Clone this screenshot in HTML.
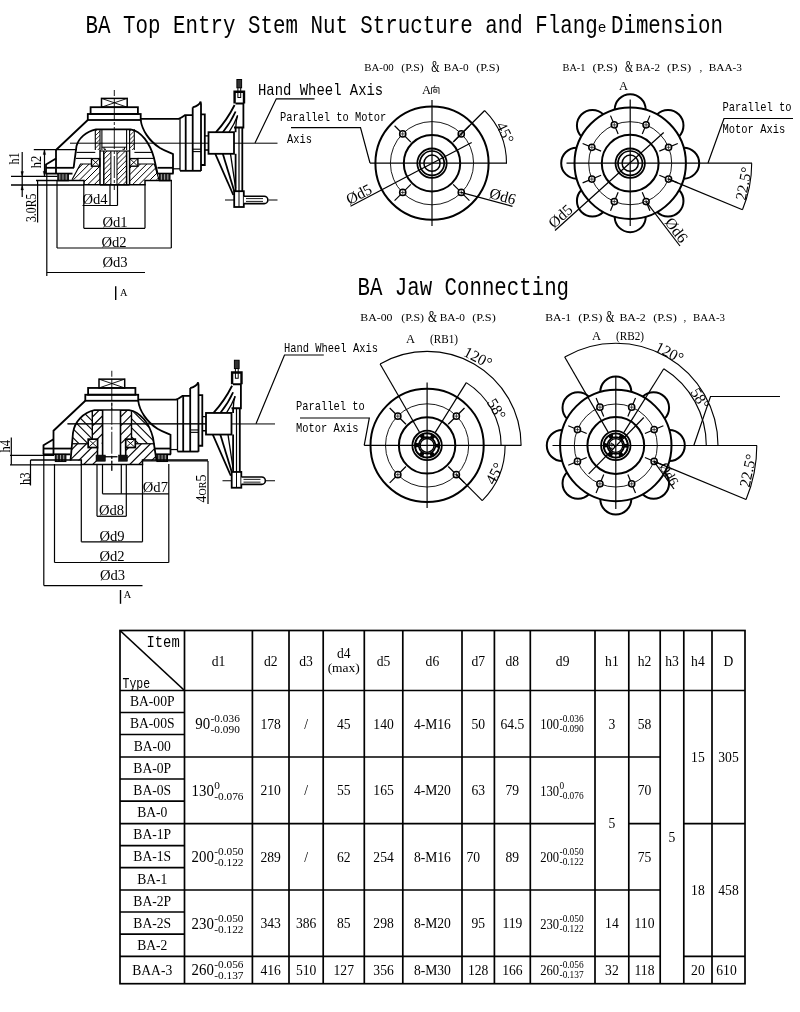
<!DOCTYPE html>
<html><head><meta charset="utf-8"><title>BA Stem Nut Structure and Flange Dimension</title>
<style>html,body{margin:0;padding:0;background:#fff}svg{display:block}</style></head>
<body>
<svg width="800" height="1012" viewBox="0 0 800 1012" stroke-linecap="butt" style="will-change:transform;opacity:0.999">
<rect x="0" y="0" width="800" height="1012" fill="#fff"/>
<text x="0" y="0" font-family="Liberation Mono" font-size="20.83" fill="#000" transform="translate(85.50 32.50) scale(1 1.27)" xml:space="preserve">BA Top Entry Stem Nut Structure and Flang</text>
<text x="0" y="0" font-family="Liberation Mono" font-size="14.50" fill="#000" transform="translate(597.80 32.20) scale(1 1.07)" xml:space="preserve">e</text>
<text x="0" y="0" font-family="Liberation Mono" font-size="20.75" fill="#000" transform="translate(611.00 32.50) scale(1 1.27)" xml:space="preserve">Dimension</text>
<text x="0" y="0" font-family="Liberation Mono" font-size="20.75" fill="#000" transform="translate(357.50 294.80) scale(1 1.25)" xml:space="preserve">BA Jaw Connecting</text>
<text x="364.25" y="70.80" font-family="Liberation Serif" font-size="11" text-anchor="start" fill="#000" textLength="29.50" lengthAdjust="spacingAndGlyphs" >BA-00</text>
<text x="401.25" y="70.80" font-family="Liberation Serif" font-size="11" text-anchor="start" fill="#000" textLength="22.50" lengthAdjust="spacingAndGlyphs" >(P.S)</text>
<text x="431.25" y="72.00" font-family="Liberation Serif" font-size="16.5" text-anchor="start" fill="#000" textLength="8.25" lengthAdjust="spacingAndGlyphs" >&amp;</text>
<text x="443.75" y="70.80" font-family="Liberation Serif" font-size="11" text-anchor="start" fill="#000" textLength="25.00" lengthAdjust="spacingAndGlyphs" >BA-0</text>
<text x="476.25" y="70.80" font-family="Liberation Serif" font-size="11" text-anchor="start" fill="#000" textLength="23.25" lengthAdjust="spacingAndGlyphs" >(P.S)</text>
<text x="562.50" y="70.80" font-family="Liberation Serif" font-size="11" text-anchor="start" fill="#000" textLength="23.00" lengthAdjust="spacingAndGlyphs" >BA-1</text>
<text x="592.50" y="70.80" font-family="Liberation Serif" font-size="11" text-anchor="start" fill="#000" textLength="25.00" lengthAdjust="spacingAndGlyphs" >(P.S)</text>
<text x="625.00" y="72.00" font-family="Liberation Serif" font-size="16.5" text-anchor="start" fill="#000" textLength="8.00" lengthAdjust="spacingAndGlyphs" >&amp;</text>
<text x="635.50" y="70.80" font-family="Liberation Serif" font-size="11" text-anchor="start" fill="#000" textLength="24.50" lengthAdjust="spacingAndGlyphs" >BA-2</text>
<text x="667.00" y="70.80" font-family="Liberation Serif" font-size="11" text-anchor="start" fill="#000" textLength="24.25" lengthAdjust="spacingAndGlyphs" >(P.S)</text>
<text x="699.50" y="70.80" font-family="Liberation Serif" font-size="11" text-anchor="start" fill="#000" >,</text>
<text x="708.75" y="70.80" font-family="Liberation Serif" font-size="11" text-anchor="start" fill="#000" textLength="33.25" lengthAdjust="spacingAndGlyphs" >BAA-3</text>
<text x="360.30" y="321.00" font-family="Liberation Serif" font-size="11" text-anchor="start" fill="#000" textLength="32.20" lengthAdjust="spacingAndGlyphs" >BA-00</text>
<text x="401.25" y="321.00" font-family="Liberation Serif" font-size="11" text-anchor="start" fill="#000" textLength="22.75" lengthAdjust="spacingAndGlyphs" >(P.S)</text>
<text x="428.00" y="322.20" font-family="Liberation Serif" font-size="16.5" text-anchor="start" fill="#000" textLength="9.00" lengthAdjust="spacingAndGlyphs" >&amp;</text>
<text x="439.75" y="321.00" font-family="Liberation Serif" font-size="11" text-anchor="start" fill="#000" textLength="25.25" lengthAdjust="spacingAndGlyphs" >BA-0</text>
<text x="472.30" y="321.00" font-family="Liberation Serif" font-size="11" text-anchor="start" fill="#000" textLength="23.45" lengthAdjust="spacingAndGlyphs" >(P.S)</text>
<text x="545.20" y="320.50" font-family="Liberation Serif" font-size="11" text-anchor="start" fill="#000" textLength="26.00" lengthAdjust="spacingAndGlyphs" >BA-1</text>
<text x="578.30" y="320.50" font-family="Liberation Serif" font-size="11" text-anchor="start" fill="#000" textLength="24.20" lengthAdjust="spacingAndGlyphs" >(P.S)</text>
<text x="606.00" y="321.70" font-family="Liberation Serif" font-size="16.5" text-anchor="start" fill="#000" textLength="8.40" lengthAdjust="spacingAndGlyphs" >&amp;</text>
<text x="619.40" y="320.50" font-family="Liberation Serif" font-size="11" text-anchor="start" fill="#000" textLength="26.40" lengthAdjust="spacingAndGlyphs" >BA-2</text>
<text x="653.20" y="320.50" font-family="Liberation Serif" font-size="11" text-anchor="start" fill="#000" textLength="23.60" lengthAdjust="spacingAndGlyphs" >(P.S)</text>
<text x="683.50" y="320.50" font-family="Liberation Serif" font-size="11" text-anchor="start" fill="#000" >,</text>
<text x="693.00" y="320.50" font-family="Liberation Serif" font-size="11" text-anchor="start" fill="#000" textLength="32.00" lengthAdjust="spacingAndGlyphs" >BAA-3</text>
<rect x="120.00" y="630.50" width="625.00" height="353.20" stroke="#000" stroke-width="1.7" fill="none"/>
<line x1="184.50" y1="630.50" x2="184.50" y2="983.70" stroke="#000" stroke-width="1.7" />
<line x1="252.40" y1="630.50" x2="252.40" y2="983.70" stroke="#000" stroke-width="1.7" />
<line x1="289.00" y1="630.50" x2="289.00" y2="983.70" stroke="#000" stroke-width="1.7" />
<line x1="323.20" y1="630.50" x2="323.20" y2="983.70" stroke="#000" stroke-width="1.7" />
<line x1="364.30" y1="630.50" x2="364.30" y2="983.70" stroke="#000" stroke-width="1.7" />
<line x1="402.80" y1="630.50" x2="402.80" y2="983.70" stroke="#000" stroke-width="1.7" />
<line x1="462.00" y1="630.50" x2="462.00" y2="983.70" stroke="#000" stroke-width="1.7" />
<line x1="494.40" y1="630.50" x2="494.40" y2="983.70" stroke="#000" stroke-width="1.7" />
<line x1="530.30" y1="630.50" x2="530.30" y2="983.70" stroke="#000" stroke-width="1.7" />
<line x1="595.00" y1="630.50" x2="595.00" y2="983.70" stroke="#000" stroke-width="1.7" />
<line x1="628.80" y1="630.50" x2="628.80" y2="983.70" stroke="#000" stroke-width="1.7" />
<line x1="660.20" y1="630.50" x2="660.20" y2="983.70" stroke="#000" stroke-width="1.7" />
<line x1="683.80" y1="630.50" x2="683.80" y2="983.70" stroke="#000" stroke-width="1.7" />
<line x1="712.00" y1="630.50" x2="712.00" y2="983.70" stroke="#000" stroke-width="1.7" />
<line x1="120.00" y1="690.50" x2="745.00" y2="690.50" stroke="#000" stroke-width="1.7" />
<line x1="120.00" y1="712.50" x2="184.50" y2="712.50" stroke="#000" stroke-width="1.7" />
<line x1="120.00" y1="734.50" x2="184.50" y2="734.50" stroke="#000" stroke-width="1.7" />
<line x1="120.00" y1="757.00" x2="184.50" y2="757.00" stroke="#000" stroke-width="1.7" />
<line x1="120.00" y1="779.00" x2="184.50" y2="779.00" stroke="#000" stroke-width="1.7" />
<line x1="120.00" y1="801.20" x2="184.50" y2="801.20" stroke="#000" stroke-width="1.7" />
<line x1="120.00" y1="823.60" x2="184.50" y2="823.60" stroke="#000" stroke-width="1.7" />
<line x1="120.00" y1="845.70" x2="184.50" y2="845.70" stroke="#000" stroke-width="1.7" />
<line x1="120.00" y1="867.60" x2="184.50" y2="867.60" stroke="#000" stroke-width="1.7" />
<line x1="120.00" y1="890.00" x2="184.50" y2="890.00" stroke="#000" stroke-width="1.7" />
<line x1="120.00" y1="912.00" x2="184.50" y2="912.00" stroke="#000" stroke-width="1.7" />
<line x1="120.00" y1="934.20" x2="184.50" y2="934.20" stroke="#000" stroke-width="1.7" />
<line x1="120.00" y1="956.40" x2="184.50" y2="956.40" stroke="#000" stroke-width="1.7" />
<line x1="184.50" y1="757.00" x2="595.00" y2="757.00" stroke="#000" stroke-width="1.7" />
<line x1="184.50" y1="823.60" x2="595.00" y2="823.60" stroke="#000" stroke-width="1.7" />
<line x1="184.50" y1="890.00" x2="595.00" y2="890.00" stroke="#000" stroke-width="1.7" />
<line x1="184.50" y1="956.40" x2="595.00" y2="956.40" stroke="#000" stroke-width="1.7" />
<line x1="595.00" y1="757.00" x2="628.80" y2="757.00" stroke="#000" stroke-width="1.7" />
<line x1="595.00" y1="890.00" x2="628.80" y2="890.00" stroke="#000" stroke-width="1.7" />
<line x1="595.00" y1="956.40" x2="628.80" y2="956.40" stroke="#000" stroke-width="1.7" />
<line x1="628.80" y1="757.00" x2="660.20" y2="757.00" stroke="#000" stroke-width="1.7" />
<line x1="628.80" y1="823.60" x2="660.20" y2="823.60" stroke="#000" stroke-width="1.7" />
<line x1="628.80" y1="890.00" x2="660.20" y2="890.00" stroke="#000" stroke-width="1.7" />
<line x1="628.80" y1="956.40" x2="660.20" y2="956.40" stroke="#000" stroke-width="1.7" />
<line x1="683.80" y1="823.60" x2="745.00" y2="823.60" stroke="#000" stroke-width="1.7" />
<line x1="683.80" y1="956.40" x2="745.00" y2="956.40" stroke="#000" stroke-width="1.7" />
<line x1="120.00" y1="630.50" x2="184.50" y2="690.50" stroke="#000" stroke-width="1.7" />
<text x="0" y="0" font-family="Liberation Mono" font-size="13.83" fill="#000" transform="translate(146.50 646.50) scale(1 1.25)" xml:space="preserve">Item</text>
<text x="0" y="0" font-family="Liberation Mono" font-size="11.50" fill="#000" transform="translate(122.50 688.00) scale(1 1.2)" xml:space="preserve">Type</text>
<text x="218.45" y="666.00" font-family="Liberation Serif" font-size="13.6" text-anchor="middle" fill="#000" >d1</text>
<text x="270.70" y="666.00" font-family="Liberation Serif" font-size="13.6" text-anchor="middle" fill="#000" >d2</text>
<text x="306.10" y="666.00" font-family="Liberation Serif" font-size="13.6" text-anchor="middle" fill="#000" >d3</text>
<text x="383.55" y="666.00" font-family="Liberation Serif" font-size="13.6" text-anchor="middle" fill="#000" >d5</text>
<text x="432.40" y="666.00" font-family="Liberation Serif" font-size="13.6" text-anchor="middle" fill="#000" >d6</text>
<text x="478.20" y="666.00" font-family="Liberation Serif" font-size="13.6" text-anchor="middle" fill="#000" >d7</text>
<text x="512.35" y="666.00" font-family="Liberation Serif" font-size="13.6" text-anchor="middle" fill="#000" >d8</text>
<text x="562.65" y="666.00" font-family="Liberation Serif" font-size="13.6" text-anchor="middle" fill="#000" >d9</text>
<text x="611.90" y="666.00" font-family="Liberation Serif" font-size="13.6" text-anchor="middle" fill="#000" >h1</text>
<text x="644.50" y="666.00" font-family="Liberation Serif" font-size="13.6" text-anchor="middle" fill="#000" >h2</text>
<text x="672.00" y="666.00" font-family="Liberation Serif" font-size="13.6" text-anchor="middle" fill="#000" >h3</text>
<text x="697.90" y="666.00" font-family="Liberation Serif" font-size="13.6" text-anchor="middle" fill="#000" >h4</text>
<text x="728.50" y="666.00" font-family="Liberation Serif" font-size="13.6" text-anchor="middle" fill="#000" >D</text>
<text x="343.75" y="657.50" font-family="Liberation Serif" font-size="13.6" text-anchor="middle" fill="#000" >d4</text>
<text x="343.75" y="672.00" font-family="Liberation Serif" font-size="13.5" text-anchor="middle" fill="#000" >(max)</text>
<text x="152.25" y="706.30" font-family="Liberation Serif" font-size="13.6" text-anchor="middle" fill="#000" >BA-00P</text>
<text x="152.25" y="728.30" font-family="Liberation Serif" font-size="13.6" text-anchor="middle" fill="#000" >BA-00S</text>
<text x="152.25" y="750.55" font-family="Liberation Serif" font-size="13.6" text-anchor="middle" fill="#000" >BA-00</text>
<text x="152.25" y="772.80" font-family="Liberation Serif" font-size="13.6" text-anchor="middle" fill="#000" >BA-0P</text>
<text x="152.25" y="794.90" font-family="Liberation Serif" font-size="13.6" text-anchor="middle" fill="#000" >BA-0S</text>
<text x="152.25" y="817.20" font-family="Liberation Serif" font-size="13.6" text-anchor="middle" fill="#000" >BA-0</text>
<text x="152.25" y="839.45" font-family="Liberation Serif" font-size="13.6" text-anchor="middle" fill="#000" >BA-1P</text>
<text x="152.25" y="861.45" font-family="Liberation Serif" font-size="13.6" text-anchor="middle" fill="#000" >BA-1S</text>
<text x="152.25" y="883.60" font-family="Liberation Serif" font-size="13.6" text-anchor="middle" fill="#000" >BA-1</text>
<text x="152.25" y="905.80" font-family="Liberation Serif" font-size="13.6" text-anchor="middle" fill="#000" >BA-2P</text>
<text x="152.25" y="927.90" font-family="Liberation Serif" font-size="13.6" text-anchor="middle" fill="#000" >BA-2S</text>
<text x="152.25" y="950.10" font-family="Liberation Serif" font-size="13.6" text-anchor="middle" fill="#000" >BA-2</text>
<text x="152.25" y="974.85" font-family="Liberation Serif" font-size="13.6" text-anchor="middle" fill="#000" >BAA-3</text>
<text x="195.27" y="729.05" font-family="Liberation Serif" font-size="16.5" text-anchor="start" fill="#000" textLength="14.85" lengthAdjust="spacingAndGlyphs" >90</text>
<text x="210.62" y="722.15" font-family="Liberation Serif" font-size="11.3" text-anchor="start" fill="#000" >-0.036</text>
<text x="210.62" y="733.15" font-family="Liberation Serif" font-size="11.3" text-anchor="start" fill="#000" >-0.090</text>
<text x="191.56" y="795.60" font-family="Liberation Serif" font-size="16.5" text-anchor="start" fill="#000" textLength="22.28" lengthAdjust="spacingAndGlyphs" >130</text>
<text x="214.33" y="788.70" font-family="Liberation Serif" font-size="11.3" text-anchor="start" fill="#000" >0</text>
<text x="214.33" y="799.70" font-family="Liberation Serif" font-size="11.3" text-anchor="start" fill="#000" >-0.076</text>
<text x="191.56" y="862.10" font-family="Liberation Serif" font-size="16.5" text-anchor="start" fill="#000" textLength="22.28" lengthAdjust="spacingAndGlyphs" >200</text>
<text x="214.33" y="855.20" font-family="Liberation Serif" font-size="11.3" text-anchor="start" fill="#000" >-0.050</text>
<text x="214.33" y="866.20" font-family="Liberation Serif" font-size="11.3" text-anchor="start" fill="#000" >-0.122</text>
<text x="191.56" y="928.50" font-family="Liberation Serif" font-size="16.5" text-anchor="start" fill="#000" textLength="22.28" lengthAdjust="spacingAndGlyphs" >230</text>
<text x="214.33" y="921.60" font-family="Liberation Serif" font-size="11.3" text-anchor="start" fill="#000" >-0.050</text>
<text x="214.33" y="932.60" font-family="Liberation Serif" font-size="11.3" text-anchor="start" fill="#000" >-0.122</text>
<text x="191.56" y="975.35" font-family="Liberation Serif" font-size="16.5" text-anchor="start" fill="#000" textLength="22.28" lengthAdjust="spacingAndGlyphs" >260</text>
<text x="214.33" y="968.45" font-family="Liberation Serif" font-size="11.3" text-anchor="start" fill="#000" >-0.056</text>
<text x="214.33" y="979.45" font-family="Liberation Serif" font-size="11.3" text-anchor="start" fill="#000" >-0.137</text>
<text x="540.14" y="729.05" font-family="Liberation Serif" font-size="14" text-anchor="start" fill="#000" textLength="18.90" lengthAdjust="spacingAndGlyphs" >100</text>
<text x="559.54" y="722.15" font-family="Liberation Serif" font-size="9.3" text-anchor="start" fill="#000" >-0.036</text>
<text x="559.54" y="732.15" font-family="Liberation Serif" font-size="9.3" text-anchor="start" fill="#000" >-0.090</text>
<text x="540.14" y="795.60" font-family="Liberation Serif" font-size="14" text-anchor="start" fill="#000" textLength="18.90" lengthAdjust="spacingAndGlyphs" >130</text>
<text x="559.54" y="788.70" font-family="Liberation Serif" font-size="9.3" text-anchor="start" fill="#000" >0</text>
<text x="559.54" y="798.70" font-family="Liberation Serif" font-size="9.3" text-anchor="start" fill="#000" >-0.076</text>
<text x="540.14" y="862.10" font-family="Liberation Serif" font-size="14" text-anchor="start" fill="#000" textLength="18.90" lengthAdjust="spacingAndGlyphs" >200</text>
<text x="559.54" y="855.20" font-family="Liberation Serif" font-size="9.3" text-anchor="start" fill="#000" >-0.050</text>
<text x="559.54" y="865.20" font-family="Liberation Serif" font-size="9.3" text-anchor="start" fill="#000" >-0.122</text>
<text x="540.14" y="928.50" font-family="Liberation Serif" font-size="14" text-anchor="start" fill="#000" textLength="18.90" lengthAdjust="spacingAndGlyphs" >230</text>
<text x="559.54" y="921.60" font-family="Liberation Serif" font-size="9.3" text-anchor="start" fill="#000" >-0.050</text>
<text x="559.54" y="931.60" font-family="Liberation Serif" font-size="9.3" text-anchor="start" fill="#000" >-0.122</text>
<text x="540.14" y="975.35" font-family="Liberation Serif" font-size="14" text-anchor="start" fill="#000" textLength="18.90" lengthAdjust="spacingAndGlyphs" >260</text>
<text x="559.54" y="968.45" font-family="Liberation Serif" font-size="9.3" text-anchor="start" fill="#000" >-0.056</text>
<text x="559.54" y="978.45" font-family="Liberation Serif" font-size="9.3" text-anchor="start" fill="#000" >-0.137</text>
<text x="270.70" y="728.55" font-family="Liberation Serif" font-size="13.6" text-anchor="middle" fill="#000" >178</text>
<text x="270.70" y="795.10" font-family="Liberation Serif" font-size="13.6" text-anchor="middle" fill="#000" >210</text>
<text x="270.70" y="861.60" font-family="Liberation Serif" font-size="13.6" text-anchor="middle" fill="#000" >289</text>
<text x="270.70" y="928.00" font-family="Liberation Serif" font-size="13.6" text-anchor="middle" fill="#000" >343</text>
<text x="270.70" y="974.85" font-family="Liberation Serif" font-size="13.6" text-anchor="middle" fill="#000" >416</text>
<text x="306.10" y="728.55" font-family="Liberation Serif" font-size="13.6" text-anchor="middle" fill="#000" >/</text>
<text x="306.10" y="795.10" font-family="Liberation Serif" font-size="13.6" text-anchor="middle" fill="#000" >/</text>
<text x="306.10" y="861.60" font-family="Liberation Serif" font-size="13.6" text-anchor="middle" fill="#000" >/</text>
<text x="306.10" y="928.00" font-family="Liberation Serif" font-size="13.6" text-anchor="middle" fill="#000" >386</text>
<text x="306.10" y="974.85" font-family="Liberation Serif" font-size="13.6" text-anchor="middle" fill="#000" >510</text>
<text x="343.75" y="728.55" font-family="Liberation Serif" font-size="13.6" text-anchor="middle" fill="#000" >45</text>
<text x="343.75" y="795.10" font-family="Liberation Serif" font-size="13.6" text-anchor="middle" fill="#000" >55</text>
<text x="343.75" y="861.60" font-family="Liberation Serif" font-size="13.6" text-anchor="middle" fill="#000" >62</text>
<text x="343.75" y="928.00" font-family="Liberation Serif" font-size="13.6" text-anchor="middle" fill="#000" >85</text>
<text x="343.75" y="974.85" font-family="Liberation Serif" font-size="13.6" text-anchor="middle" fill="#000" >127</text>
<text x="383.55" y="728.55" font-family="Liberation Serif" font-size="13.6" text-anchor="middle" fill="#000" >140</text>
<text x="383.55" y="795.10" font-family="Liberation Serif" font-size="13.6" text-anchor="middle" fill="#000" >165</text>
<text x="383.55" y="861.60" font-family="Liberation Serif" font-size="13.6" text-anchor="middle" fill="#000" >254</text>
<text x="383.55" y="928.00" font-family="Liberation Serif" font-size="13.6" text-anchor="middle" fill="#000" >298</text>
<text x="383.55" y="974.85" font-family="Liberation Serif" font-size="13.6" text-anchor="middle" fill="#000" >356</text>
<text x="432.40" y="728.55" font-family="Liberation Serif" font-size="13.6" text-anchor="middle" fill="#000" >4-M16</text>
<text x="432.40" y="795.10" font-family="Liberation Serif" font-size="13.6" text-anchor="middle" fill="#000" >4-M20</text>
<text x="432.40" y="861.60" font-family="Liberation Serif" font-size="13.6" text-anchor="middle" fill="#000" >8-M16</text>
<text x="432.40" y="928.00" font-family="Liberation Serif" font-size="13.6" text-anchor="middle" fill="#000" >8-M20</text>
<text x="432.40" y="974.85" font-family="Liberation Serif" font-size="13.6" text-anchor="middle" fill="#000" >8-M30</text>
<text x="478.20" y="728.55" font-family="Liberation Serif" font-size="13.6" text-anchor="middle" fill="#000" >50</text>
<text x="478.20" y="795.10" font-family="Liberation Serif" font-size="13.6" text-anchor="middle" fill="#000" >63</text>
<text x="473.20" y="861.60" font-family="Liberation Serif" font-size="13.6" text-anchor="middle" fill="#000" >70</text>
<text x="478.20" y="928.00" font-family="Liberation Serif" font-size="13.6" text-anchor="middle" fill="#000" >95</text>
<text x="478.20" y="974.85" font-family="Liberation Serif" font-size="13.6" text-anchor="middle" fill="#000" >128</text>
<text x="512.35" y="728.55" font-family="Liberation Serif" font-size="13.6" text-anchor="middle" fill="#000" >64.5</text>
<text x="512.35" y="795.10" font-family="Liberation Serif" font-size="13.6" text-anchor="middle" fill="#000" >79</text>
<text x="512.35" y="861.60" font-family="Liberation Serif" font-size="13.6" text-anchor="middle" fill="#000" >89</text>
<text x="512.35" y="928.00" font-family="Liberation Serif" font-size="13.6" text-anchor="middle" fill="#000" >119</text>
<text x="512.35" y="974.85" font-family="Liberation Serif" font-size="13.6" text-anchor="middle" fill="#000" >166</text>
<text x="611.90" y="728.55" font-family="Liberation Serif" font-size="13.6" text-anchor="middle" fill="#000" >3</text>
<text x="611.90" y="828.30" font-family="Liberation Serif" font-size="13.6" text-anchor="middle" fill="#000" >5</text>
<text x="611.90" y="928.00" font-family="Liberation Serif" font-size="13.6" text-anchor="middle" fill="#000" >14</text>
<text x="611.90" y="974.85" font-family="Liberation Serif" font-size="13.6" text-anchor="middle" fill="#000" >32</text>
<text x="644.50" y="728.55" font-family="Liberation Serif" font-size="13.6" text-anchor="middle" fill="#000" >58</text>
<text x="644.50" y="795.10" font-family="Liberation Serif" font-size="13.6" text-anchor="middle" fill="#000" >70</text>
<text x="644.50" y="861.60" font-family="Liberation Serif" font-size="13.6" text-anchor="middle" fill="#000" >75</text>
<text x="644.50" y="928.00" font-family="Liberation Serif" font-size="13.6" text-anchor="middle" fill="#000" >110</text>
<text x="644.50" y="974.85" font-family="Liberation Serif" font-size="13.6" text-anchor="middle" fill="#000" >118</text>
<text x="672.00" y="841.90" font-family="Liberation Serif" font-size="13.6" text-anchor="middle" fill="#000" >5</text>
<text x="697.90" y="761.85" font-family="Liberation Serif" font-size="13.6" text-anchor="middle" fill="#000" >15</text>
<text x="697.90" y="894.80" font-family="Liberation Serif" font-size="13.6" text-anchor="middle" fill="#000" >18</text>
<text x="697.90" y="974.85" font-family="Liberation Serif" font-size="13.6" text-anchor="middle" fill="#000" >20</text>
<text x="728.50" y="761.85" font-family="Liberation Serif" font-size="13.6" text-anchor="middle" fill="#000" >305</text>
<text x="728.50" y="894.80" font-family="Liberation Serif" font-size="13.6" text-anchor="middle" fill="#000" >458</text>
<text x="726.50" y="974.85" font-family="Liberation Serif" font-size="13.6" text-anchor="middle" fill="#000" >610</text>
<circle cx="432.00" cy="163.20" r="56.60" stroke="#000" stroke-width="2.0" fill="none"/>
<circle cx="432.00" cy="163.20" r="41.60" stroke="#000" stroke-width="0.9" fill="none"/>
<circle cx="432.00" cy="163.20" r="28.20" stroke="#000" stroke-width="2.0" fill="none"/>
<circle cx="432.00" cy="163.20" r="14.70" stroke="#000" stroke-width="1.8" fill="none"/>
<circle cx="432.00" cy="163.20" r="12.20" stroke="#000" stroke-width="1.7" fill="none"/>
<circle cx="432.00" cy="163.20" r="8.10" stroke="#000" stroke-width="1.5" fill="none"/>
<line x1="453.14" y1="184.34" x2="469.41" y2="200.61" stroke="#000" stroke-width="1.2" />
<circle cx="461.27" cy="192.47" r="3.10" stroke="#000" stroke-width="1.5" fill="#fff"/>
<line x1="459.07" y1="192.47" x2="463.47" y2="192.47" stroke="#222" stroke-width="0.8" />
<line x1="461.27" y1="190.27" x2="461.27" y2="194.67" stroke="#222" stroke-width="0.8" />
<line x1="410.86" y1="184.34" x2="394.59" y2="200.61" stroke="#000" stroke-width="1.2" />
<circle cx="402.73" cy="192.47" r="3.10" stroke="#000" stroke-width="1.5" fill="#fff"/>
<line x1="400.53" y1="192.47" x2="404.93" y2="192.47" stroke="#222" stroke-width="0.8" />
<line x1="402.73" y1="190.27" x2="402.73" y2="194.67" stroke="#222" stroke-width="0.8" />
<line x1="410.86" y1="142.06" x2="394.59" y2="125.79" stroke="#000" stroke-width="1.2" />
<circle cx="402.73" cy="133.93" r="3.10" stroke="#000" stroke-width="1.5" fill="#fff"/>
<line x1="400.53" y1="133.93" x2="404.93" y2="133.93" stroke="#222" stroke-width="0.8" />
<line x1="402.73" y1="131.73" x2="402.73" y2="136.13" stroke="#222" stroke-width="0.8" />
<line x1="453.14" y1="142.06" x2="469.41" y2="125.79" stroke="#000" stroke-width="1.2" />
<circle cx="461.27" cy="133.93" r="3.10" stroke="#000" stroke-width="1.5" fill="#fff"/>
<line x1="459.07" y1="133.93" x2="463.47" y2="133.93" stroke="#222" stroke-width="0.8" />
<line x1="461.27" y1="131.73" x2="461.27" y2="136.13" stroke="#222" stroke-width="0.8" />
<line x1="370.00" y1="163.20" x2="507.00" y2="163.20" stroke="#000" stroke-width="1.2" />
<line x1="432.00" y1="100.00" x2="432.00" y2="226.00" stroke="#000" stroke-width="1.2" />
<line x1="453.92" y1="141.28" x2="484.68" y2="110.52" stroke="#000" stroke-width="1.2" />
<path d="M484.68 110.52 A74.50 74.50 0 0 1 506.50 163.20" stroke="#000" stroke-width="1.1" fill="none" />
<text x="495.80" y="125.30" font-family="Liberation Serif" font-size="15.5" text-anchor="start" fill="#000" transform="rotate(64.00 495.80 125.30)" >45°</text>
<line x1="350.50" y1="206.20" x2="471.70" y2="142.50" stroke="#000" stroke-width="1.2" />
<text x="349.50" y="205.00" font-family="Liberation Serif" font-size="15.5" text-anchor="start" fill="#000" transform="rotate(-27.70 349.50 205.00)" >Ød5</text>
<line x1="460.90" y1="192.30" x2="512.50" y2="206.30" stroke="#000" stroke-width="1.2" />
<text x="488.50" y="197.80" font-family="Liberation Serif" font-size="15.5" text-anchor="start" fill="#000" transform="rotate(15.00 488.50 197.80)" >Ød6</text>
<path d="M291 127.6 H360.5 L370 163" stroke="#000" stroke-width="1.2" fill="none" />
<text x="422.00" y="94.00" font-family="Liberation Serif" font-size="12.5" text-anchor="start" fill="#000" >A</text>
<path d="M431.5 87.7 V94.0 M431.5 87.7 H439.0 V94.0 M435.0 85.2 L433.8 87.7 M433.7 89.7 H436.8 V92.2 H433.7 Z" stroke="#000" stroke-width="0.8" fill="none" />
<circle cx="630.20" cy="163.20" r="55.70" stroke="#000" stroke-width="2.0" fill="none"/>
<path d="M683.70 147.70 A15.5 15.5 0 0 1 683.70 178.70" stroke="#000" stroke-width="2.0" fill="none" />
<path d="M678.99 190.07 A15.5 15.5 0 0 1 657.07 211.99" stroke="#000" stroke-width="2.0" fill="none" />
<path d="M645.70 216.70 A15.5 15.5 0 0 1 614.70 216.70" stroke="#000" stroke-width="2.0" fill="none" />
<path d="M603.33 211.99 A15.5 15.5 0 0 1 581.41 190.07" stroke="#000" stroke-width="2.0" fill="none" />
<path d="M576.70 178.70 A15.5 15.5 0 0 1 576.70 147.70" stroke="#000" stroke-width="2.0" fill="none" />
<path d="M581.41 136.33 A15.5 15.5 0 0 1 603.33 114.41" stroke="#000" stroke-width="2.0" fill="none" />
<path d="M614.70 109.70 A15.5 15.5 0 0 1 645.70 109.70" stroke="#000" stroke-width="2.0" fill="none" />
<path d="M657.07 114.41 A15.5 15.5 0 0 1 678.99 136.33" stroke="#000" stroke-width="2.0" fill="none" />
<circle cx="630.20" cy="163.20" r="41.50" stroke="#000" stroke-width="0.9" fill="none"/>
<circle cx="630.20" cy="163.20" r="28.40" stroke="#000" stroke-width="2.0" fill="none"/>
<circle cx="630.20" cy="163.20" r="14.70" stroke="#000" stroke-width="1.8" fill="none"/>
<circle cx="630.20" cy="163.20" r="12.20" stroke="#000" stroke-width="1.7" fill="none"/>
<circle cx="630.20" cy="163.20" r="8.10" stroke="#000" stroke-width="1.5" fill="none"/>
<line x1="659.30" y1="175.25" x2="677.78" y2="182.91" stroke="#000" stroke-width="1.2" />
<circle cx="668.54" cy="179.08" r="3.10" stroke="#000" stroke-width="1.5" fill="#fff"/>
<line x1="666.34" y1="179.08" x2="670.74" y2="179.08" stroke="#222" stroke-width="0.8" />
<line x1="668.54" y1="176.88" x2="668.54" y2="181.28" stroke="#222" stroke-width="0.8" />
<line x1="642.25" y1="192.30" x2="649.91" y2="210.78" stroke="#000" stroke-width="1.2" />
<circle cx="646.08" cy="201.54" r="3.10" stroke="#000" stroke-width="1.5" fill="#fff"/>
<line x1="643.88" y1="201.54" x2="648.28" y2="201.54" stroke="#222" stroke-width="0.8" />
<line x1="646.08" y1="199.34" x2="646.08" y2="203.74" stroke="#222" stroke-width="0.8" />
<line x1="618.15" y1="192.30" x2="610.49" y2="210.78" stroke="#000" stroke-width="1.2" />
<circle cx="614.32" cy="201.54" r="3.10" stroke="#000" stroke-width="1.5" fill="#fff"/>
<line x1="612.12" y1="201.54" x2="616.52" y2="201.54" stroke="#222" stroke-width="0.8" />
<line x1="614.32" y1="199.34" x2="614.32" y2="203.74" stroke="#222" stroke-width="0.8" />
<line x1="601.10" y1="175.25" x2="582.62" y2="182.91" stroke="#000" stroke-width="1.2" />
<circle cx="591.86" cy="179.08" r="3.10" stroke="#000" stroke-width="1.5" fill="#fff"/>
<line x1="589.66" y1="179.08" x2="594.06" y2="179.08" stroke="#222" stroke-width="0.8" />
<line x1="591.86" y1="176.88" x2="591.86" y2="181.28" stroke="#222" stroke-width="0.8" />
<line x1="601.10" y1="151.15" x2="582.62" y2="143.49" stroke="#000" stroke-width="1.2" />
<circle cx="591.86" cy="147.32" r="3.10" stroke="#000" stroke-width="1.5" fill="#fff"/>
<line x1="589.66" y1="147.32" x2="594.06" y2="147.32" stroke="#222" stroke-width="0.8" />
<line x1="591.86" y1="145.12" x2="591.86" y2="149.52" stroke="#222" stroke-width="0.8" />
<line x1="618.15" y1="134.10" x2="610.49" y2="115.62" stroke="#000" stroke-width="1.2" />
<circle cx="614.32" cy="124.86" r="3.10" stroke="#000" stroke-width="1.5" fill="#fff"/>
<line x1="612.12" y1="124.86" x2="616.52" y2="124.86" stroke="#222" stroke-width="0.8" />
<line x1="614.32" y1="122.66" x2="614.32" y2="127.06" stroke="#222" stroke-width="0.8" />
<line x1="642.25" y1="134.10" x2="649.91" y2="115.62" stroke="#000" stroke-width="1.2" />
<circle cx="646.08" cy="124.86" r="3.10" stroke="#000" stroke-width="1.5" fill="#fff"/>
<line x1="643.88" y1="124.86" x2="648.28" y2="124.86" stroke="#222" stroke-width="0.8" />
<line x1="646.08" y1="122.66" x2="646.08" y2="127.06" stroke="#222" stroke-width="0.8" />
<line x1="659.30" y1="151.15" x2="677.78" y2="143.49" stroke="#000" stroke-width="1.2" />
<circle cx="668.54" cy="147.32" r="3.10" stroke="#000" stroke-width="1.5" fill="#fff"/>
<line x1="666.34" y1="147.32" x2="670.74" y2="147.32" stroke="#222" stroke-width="0.8" />
<line x1="668.54" y1="145.12" x2="668.54" y2="149.52" stroke="#222" stroke-width="0.8" />
<line x1="566.50" y1="163.20" x2="752.00" y2="163.20" stroke="#000" stroke-width="1.2" />
<line x1="630.20" y1="99.50" x2="630.20" y2="226.00" stroke="#000" stroke-width="1.2" />
<line x1="555.00" y1="230.50" x2="663.70" y2="132.50" stroke="#000" stroke-width="1.2" />
<text x="554.00" y="229.00" font-family="Liberation Serif" font-size="15.5" text-anchor="start" fill="#000" transform="rotate(-42.00 554.00 229.00)" >Ød5</text>
<line x1="646.08" y1="201.54" x2="680.00" y2="246.00" stroke="#000" stroke-width="1.2" />
<text x="664.20" y="222.60" font-family="Liberation Serif" font-size="15.5" text-anchor="start" fill="#000" transform="rotate(52.70 664.20 222.60)" >Ød6</text>
<line x1="668.54" y1="179.08" x2="742.45" y2="209.70" stroke="#000" stroke-width="1.2" />
<path d="M751.70 163.20 A121.50 121.50 0 0 1 742.45 209.70" stroke="#000" stroke-width="1.1" fill="none" />
<text x="745.50" y="201.00" font-family="Liberation Serif" font-size="15.5" text-anchor="start" fill="#000" transform="rotate(-79.00 745.50 201.00)" >22.5°</text>
<path d="M793 118.5 H724 L708 163" stroke="#000" stroke-width="1.2" fill="none" />
<text x="619.00" y="90.00" font-family="Liberation Serif" font-size="12.5" text-anchor="start" fill="#000" >A</text>
<circle cx="427.10" cy="445.40" r="56.60" stroke="#000" stroke-width="2.0" fill="none"/>
<circle cx="427.10" cy="445.40" r="41.60" stroke="#000" stroke-width="0.9" fill="none"/>
<circle cx="427.10" cy="445.40" r="28.20" stroke="#000" stroke-width="2.0" fill="none"/>
<circle cx="427.10" cy="445.40" r="14.70" stroke="#000" stroke-width="1.8" fill="none"/>
<circle cx="427.10" cy="445.40" r="12.20" stroke="#000" stroke-width="1.7" fill="none"/>
<circle cx="427.10" cy="445.40" r="10.00" stroke="#000" stroke-width="5.0" fill="none"/>
<circle cx="427.10" cy="445.40" r="10.2" stroke="#fff" stroke-width="2.0" fill="none" stroke-dasharray="6.4 4.28" stroke-dashoffset="-2.2"/>
<circle cx="427.10" cy="445.40" r="6.90" stroke="#000" stroke-width="1.3" fill="#fff"/>
<line x1="448.24" y1="466.54" x2="464.51" y2="482.81" stroke="#000" stroke-width="1.2" />
<circle cx="456.37" cy="474.67" r="3.10" stroke="#000" stroke-width="1.5" fill="#fff"/>
<line x1="454.17" y1="474.67" x2="458.57" y2="474.67" stroke="#222" stroke-width="0.8" />
<line x1="456.37" y1="472.47" x2="456.37" y2="476.87" stroke="#222" stroke-width="0.8" />
<line x1="405.96" y1="466.54" x2="389.69" y2="482.81" stroke="#000" stroke-width="1.2" />
<circle cx="397.83" cy="474.67" r="3.10" stroke="#000" stroke-width="1.5" fill="#fff"/>
<line x1="395.63" y1="474.67" x2="400.03" y2="474.67" stroke="#222" stroke-width="0.8" />
<line x1="397.83" y1="472.47" x2="397.83" y2="476.87" stroke="#222" stroke-width="0.8" />
<line x1="405.96" y1="424.26" x2="389.69" y2="407.99" stroke="#000" stroke-width="1.2" />
<circle cx="397.83" cy="416.13" r="3.10" stroke="#000" stroke-width="1.5" fill="#fff"/>
<line x1="395.63" y1="416.13" x2="400.03" y2="416.13" stroke="#222" stroke-width="0.8" />
<line x1="397.83" y1="413.93" x2="397.83" y2="418.33" stroke="#222" stroke-width="0.8" />
<line x1="448.24" y1="424.26" x2="464.51" y2="407.99" stroke="#000" stroke-width="1.2" />
<circle cx="456.37" cy="416.13" r="3.10" stroke="#000" stroke-width="1.5" fill="#fff"/>
<line x1="454.17" y1="416.13" x2="458.57" y2="416.13" stroke="#222" stroke-width="0.8" />
<line x1="456.37" y1="413.93" x2="456.37" y2="418.33" stroke="#222" stroke-width="0.8" />
<line x1="364.20" y1="445.40" x2="521.30" y2="445.40" stroke="#000" stroke-width="1.2" />
<line x1="427.10" y1="382.50" x2="427.10" y2="508.00" stroke="#000" stroke-width="1.2" />
<line x1="419.40" y1="432.06" x2="380.10" y2="363.99" stroke="#000" stroke-width="1.2" />
<path d="M380.10 363.99 A94.00 94.00 0 0 1 521.10 445.40" stroke="#000" stroke-width="1.1" fill="none" />
<line x1="435.26" y1="432.34" x2="466.31" y2="382.64" stroke="#000" stroke-width="1.2" />
<path d="M466.31 382.64 A74.00 74.00 0 0 1 501.10 445.40" stroke="#000" stroke-width="1.1" fill="none" />
<line x1="456.37" y1="474.67" x2="482.25" y2="500.55" stroke="#000" stroke-width="1.2" />
<path d="M505.10 445.40 A78.00 78.00 0 0 1 482.25 500.55" stroke="#000" stroke-width="1.1" fill="none" />
<text x="462.50" y="355.50" font-family="Liberation Serif" font-size="15.5" text-anchor="start" fill="#000" transform="rotate(27.00 462.50 355.50)" >120°</text>
<text x="486.50" y="402.50" font-family="Liberation Serif" font-size="15.5" text-anchor="start" fill="#000" transform="rotate(59.00 486.50 402.50)" >58°</text>
<text x="494.00" y="485.50" font-family="Liberation Serif" font-size="15.5" text-anchor="start" fill="#000" transform="rotate(-62.00 494.00 485.50)" >45°</text>
<path d="M300 418 H369.3 L364.2 445.4" stroke="#000" stroke-width="1.2" fill="none" />
<text x="406.00" y="342.50" font-family="Liberation Serif" font-size="12.5" text-anchor="start" fill="#000" >A</text>
<text x="430.00" y="342.50" font-family="Liberation Serif" font-size="12" text-anchor="start" fill="#000" textLength="28.00" lengthAdjust="spacingAndGlyphs" >(RB1)</text>
<circle cx="615.80" cy="445.50" r="55.70" stroke="#000" stroke-width="2.0" fill="none"/>
<path d="M669.30 430.00 A15.5 15.5 0 0 1 669.30 461.00" stroke="#000" stroke-width="2.0" fill="none" />
<path d="M664.59 472.37 A15.5 15.5 0 0 1 642.67 494.29" stroke="#000" stroke-width="2.0" fill="none" />
<path d="M631.30 499.00 A15.5 15.5 0 0 1 600.30 499.00" stroke="#000" stroke-width="2.0" fill="none" />
<path d="M588.93 494.29 A15.5 15.5 0 0 1 567.01 472.37" stroke="#000" stroke-width="2.0" fill="none" />
<path d="M562.30 461.00 A15.5 15.5 0 0 1 562.30 430.00" stroke="#000" stroke-width="2.0" fill="none" />
<path d="M567.01 418.63 A15.5 15.5 0 0 1 588.93 396.71" stroke="#000" stroke-width="2.0" fill="none" />
<path d="M600.30 392.00 A15.5 15.5 0 0 1 631.30 392.00" stroke="#000" stroke-width="2.0" fill="none" />
<path d="M642.67 396.71 A15.5 15.5 0 0 1 664.59 418.63" stroke="#000" stroke-width="2.0" fill="none" />
<circle cx="615.80" cy="445.50" r="41.50" stroke="#000" stroke-width="0.9" fill="none"/>
<circle cx="615.80" cy="445.50" r="28.40" stroke="#000" stroke-width="2.0" fill="none"/>
<circle cx="615.80" cy="445.50" r="14.70" stroke="#000" stroke-width="1.8" fill="none"/>
<circle cx="615.80" cy="445.50" r="12.20" stroke="#000" stroke-width="1.7" fill="none"/>
<circle cx="615.80" cy="445.50" r="10.00" stroke="#000" stroke-width="5.0" fill="none"/>
<circle cx="615.80" cy="445.50" r="10.2" stroke="#fff" stroke-width="2.0" fill="none" stroke-dasharray="6.4 4.28" stroke-dashoffset="-2.2"/>
<circle cx="615.80" cy="445.50" r="6.90" stroke="#000" stroke-width="1.3" fill="#fff"/>
<line x1="644.90" y1="457.55" x2="663.38" y2="465.21" stroke="#000" stroke-width="1.2" />
<circle cx="654.14" cy="461.38" r="3.10" stroke="#000" stroke-width="1.5" fill="#fff"/>
<line x1="651.94" y1="461.38" x2="656.34" y2="461.38" stroke="#222" stroke-width="0.8" />
<line x1="654.14" y1="459.18" x2="654.14" y2="463.58" stroke="#222" stroke-width="0.8" />
<line x1="627.85" y1="474.60" x2="635.51" y2="493.08" stroke="#000" stroke-width="1.2" />
<circle cx="631.68" cy="483.84" r="3.10" stroke="#000" stroke-width="1.5" fill="#fff"/>
<line x1="629.48" y1="483.84" x2="633.88" y2="483.84" stroke="#222" stroke-width="0.8" />
<line x1="631.68" y1="481.64" x2="631.68" y2="486.04" stroke="#222" stroke-width="0.8" />
<line x1="603.75" y1="474.60" x2="596.09" y2="493.08" stroke="#000" stroke-width="1.2" />
<circle cx="599.92" cy="483.84" r="3.10" stroke="#000" stroke-width="1.5" fill="#fff"/>
<line x1="597.72" y1="483.84" x2="602.12" y2="483.84" stroke="#222" stroke-width="0.8" />
<line x1="599.92" y1="481.64" x2="599.92" y2="486.04" stroke="#222" stroke-width="0.8" />
<line x1="586.70" y1="457.55" x2="568.22" y2="465.21" stroke="#000" stroke-width="1.2" />
<circle cx="577.46" cy="461.38" r="3.10" stroke="#000" stroke-width="1.5" fill="#fff"/>
<line x1="575.26" y1="461.38" x2="579.66" y2="461.38" stroke="#222" stroke-width="0.8" />
<line x1="577.46" y1="459.18" x2="577.46" y2="463.58" stroke="#222" stroke-width="0.8" />
<line x1="586.70" y1="433.45" x2="568.22" y2="425.79" stroke="#000" stroke-width="1.2" />
<circle cx="577.46" cy="429.62" r="3.10" stroke="#000" stroke-width="1.5" fill="#fff"/>
<line x1="575.26" y1="429.62" x2="579.66" y2="429.62" stroke="#222" stroke-width="0.8" />
<line x1="577.46" y1="427.42" x2="577.46" y2="431.82" stroke="#222" stroke-width="0.8" />
<line x1="603.75" y1="416.40" x2="596.09" y2="397.92" stroke="#000" stroke-width="1.2" />
<circle cx="599.92" cy="407.16" r="3.10" stroke="#000" stroke-width="1.5" fill="#fff"/>
<line x1="597.72" y1="407.16" x2="602.12" y2="407.16" stroke="#222" stroke-width="0.8" />
<line x1="599.92" y1="404.96" x2="599.92" y2="409.36" stroke="#222" stroke-width="0.8" />
<line x1="627.85" y1="416.40" x2="635.51" y2="397.92" stroke="#000" stroke-width="1.2" />
<circle cx="631.68" cy="407.16" r="3.10" stroke="#000" stroke-width="1.5" fill="#fff"/>
<line x1="629.48" y1="407.16" x2="633.88" y2="407.16" stroke="#222" stroke-width="0.8" />
<line x1="631.68" y1="404.96" x2="631.68" y2="409.36" stroke="#222" stroke-width="0.8" />
<line x1="644.90" y1="433.45" x2="663.38" y2="425.79" stroke="#000" stroke-width="1.2" />
<circle cx="654.14" cy="429.62" r="3.10" stroke="#000" stroke-width="1.5" fill="#fff"/>
<line x1="651.94" y1="429.62" x2="656.34" y2="429.62" stroke="#222" stroke-width="0.8" />
<line x1="654.14" y1="427.42" x2="654.14" y2="431.82" stroke="#222" stroke-width="0.8" />
<line x1="552.50" y1="445.50" x2="757.00" y2="445.50" stroke="#000" stroke-width="1.2" />
<line x1="615.80" y1="376.00" x2="615.80" y2="509.00" stroke="#000" stroke-width="1.2" />
<line x1="608.10" y1="432.16" x2="564.70" y2="356.99" stroke="#000" stroke-width="1.2" />
<path d="M564.70 356.99 A102.20 102.20 0 0 1 718.00 445.50" stroke="#000" stroke-width="1.1" fill="none" />
<line x1="623.96" y1="432.44" x2="663.76" y2="368.75" stroke="#000" stroke-width="1.2" />
<path d="M663.76 368.75 A90.50 90.50 0 0 1 706.30 445.50" stroke="#000" stroke-width="1.1" fill="none" />
<text x="611.50" y="451.00" font-family="Liberation Serif" font-size="9" text-anchor="start" fill="#000" transform="rotate(-45.00 611.50 451.00)" font-weight="bold">Ø</text>
<line x1="588.70" y1="473.80" x2="643.80" y2="417.50" stroke="#000" stroke-width="1.2" />
<line x1="654.14" y1="461.38" x2="746.07" y2="499.46" stroke="#000" stroke-width="1.2" />
<path d="M756.80 445.50 A141.00 141.00 0 0 1 746.07 499.46" stroke="#000" stroke-width="1.1" fill="none" />
<text x="749.50" y="488.00" font-family="Liberation Serif" font-size="15.5" text-anchor="start" fill="#000" transform="rotate(-78.00 749.50 488.00)" >22.5°</text>
<text x="654.00" y="350.50" font-family="Liberation Serif" font-size="15.5" text-anchor="start" fill="#000" transform="rotate(27.00 654.00 350.50)" >120°</text>
<text x="690.00" y="392.00" font-family="Liberation Serif" font-size="15.5" text-anchor="start" fill="#000" transform="rotate(58.00 690.00 392.00)" >58°</text>
<line x1="653.80" y1="461.30" x2="674.00" y2="489.00" stroke="#000" stroke-width="1.2" />
<text x="659.00" y="466.00" font-family="Liberation Serif" font-size="14" text-anchor="start" fill="#000" transform="rotate(60.00 659.00 466.00)" >Ød6</text>
<path d="M780 396.5 H710.5 L693.8 445.5" stroke="#000" stroke-width="1.2" fill="none" />
<text x="592.00" y="339.50" font-family="Liberation Serif" font-size="12.5" text-anchor="start" fill="#000" >A</text>
<text x="616.00" y="339.50" font-family="Liberation Serif" font-size="12" text-anchor="start" fill="#000" textLength="28.00" lengthAdjust="spacingAndGlyphs" >(RB2)</text>
<g id="g1">
<rect x="101.50" y="98.40" width="25.70" height="8.80" stroke="#000" stroke-width="1.5" fill="#fff"/>
<line x1="101.50" y1="98.40" x2="127.20" y2="107.20" stroke="#000" stroke-width="0.9" />
<line x1="101.50" y1="107.20" x2="127.20" y2="98.40" stroke="#000" stroke-width="0.9" />
<rect x="90.60" y="107.20" width="47.30" height="6.80" stroke="#000" stroke-width="1.8" fill="none"/>
<rect x="87.80" y="114.00" width="52.90" height="6.00" stroke="#000" stroke-width="1.8" fill="none"/>
<path d="M87.8 120 L56 150 V173.6" stroke="#000" stroke-width="1.8" fill="none" />
<path d="M56 158.4 L46 164.6 V173.6" stroke="#000" stroke-width="1.8" fill="none" />
<line x1="46.00" y1="167.80" x2="74.00" y2="167.80" stroke="#000" stroke-width="1.8" />
<line x1="45.30" y1="173.60" x2="72.50" y2="173.60" stroke="#000" stroke-width="1.8" />
<line x1="140.70" y1="118.80" x2="179.00" y2="118.80" stroke="#000" stroke-width="1.8" />
<path d="M140.7 120 C142 130 149 141 160 148 C165 151 170 152.5 173 154 V173.6" stroke="#000" stroke-width="1.8" fill="none" />
<line x1="157.50" y1="167.80" x2="173.00" y2="167.80" stroke="#000" stroke-width="1.8" />
<line x1="157.50" y1="173.60" x2="173.60" y2="173.60" stroke="#000" stroke-width="1.8" />
<path d="M178.6 118.8 C181 118 183 116.5 184.8 115.2 H192.7" stroke="#000" stroke-width="1.8" fill="none" />
<line x1="180.00" y1="118.50" x2="180.00" y2="170.80" stroke="#000" stroke-width="1.3" />
<line x1="185.70" y1="115.20" x2="185.70" y2="170.80" stroke="#000" stroke-width="1.8" />
<line x1="173.00" y1="168.80" x2="180.00" y2="168.80" stroke="#000" stroke-width="1.2" />
<path d="M180 170.8 H201" stroke="#000" stroke-width="1.8" fill="none" />
<line x1="192.70" y1="107.30" x2="192.70" y2="170.80" stroke="#000" stroke-width="1.8" />
<path d="M192.7 107.3 C196.5 106.3 199.5 104.8 200.6 101.6 L201 104 V171" stroke="#000" stroke-width="1.8" fill="none" />
<line x1="192.70" y1="149.20" x2="201.00" y2="149.20" stroke="#000" stroke-width="1.1" />
<line x1="192.70" y1="151.60" x2="201.00" y2="151.60" stroke="#000" stroke-width="1.1" />
<path d="M201 114.3 H204.8 V165 H201" stroke="#000" stroke-width="1.8" fill="none" />
<path d="M204.8 135.8 H208.5 M204.8 150 H208.5" stroke="#000" stroke-width="1.3" fill="none" />
<rect x="208.50" y="132.20" width="25.50" height="21.60" stroke="#000" stroke-width="1.8" fill="#fff"/>
<rect x="236.90" y="79.50" width="4.70" height="8.30" stroke="#000" stroke-width="1.0" fill="#333"/>
<rect x="237.90" y="87.80" width="2.80" height="9.70" stroke="#000" stroke-width="1.0" fill="#fff"/>
<path d="M234.6 103.5 V91.8 H244 V103.5" stroke="#000" stroke-width="2.4" fill="none" />
<path d="M235.5 103.5 H243.4 V127.5 H234" stroke="#000" stroke-width="1.8" fill="none" />
<line x1="242.30" y1="127.50" x2="242.30" y2="191.00" stroke="#000" stroke-width="1.8" />
<line x1="239.00" y1="127.50" x2="239.00" y2="191.00" stroke="#000" stroke-width="1.2" />
<line x1="235.60" y1="127.50" x2="235.60" y2="132.20" stroke="#000" stroke-width="1.8" />
<line x1="235.60" y1="153.80" x2="235.60" y2="191.00" stroke="#000" stroke-width="1.8" />
<path d="M216 132.2 Q227 120 234.6 105" stroke="#000" stroke-width="1.8" fill="none" />
<path d="M222.8 132.2 Q231 122 235.6 111.5" stroke="#000" stroke-width="1.8" fill="none" />
<path d="M229 132.2 Q234.5 124 237.6 115.5" stroke="#000" stroke-width="1.3" fill="none" />
<path d="M237.6 115.5 Q235.8 121 235.8 127.5" stroke="#000" stroke-width="1.3" fill="none" />
<path d="M215.3 153.8 L233.3 195" stroke="#000" stroke-width="1.8" fill="none" />
<path d="M222.8 153.8 L234.8 193" stroke="#000" stroke-width="1.8" fill="none" />
<path d="M230.5 153.8 L235.6 188" stroke="#000" stroke-width="1.3" fill="none" />
<rect x="234.20" y="191.20" width="9.60" height="15.80" stroke="#000" stroke-width="1.8" fill="#fff"/>
<line x1="239.00" y1="191.20" x2="239.00" y2="207.00" stroke="#000" stroke-width="1.0" />
<path d="M243.8 196.3 H264.2 A3.6 3.6 0 0 1 264.2 203.6 H243.8" stroke="#000" stroke-width="1.6" fill="#fff" />
<line x1="246.00" y1="198.60" x2="263.00" y2="198.60" stroke="#000" stroke-width="0.9" />
<line x1="246.00" y1="201.40" x2="263.00" y2="201.40" stroke="#000" stroke-width="0.9" />
<line x1="225.00" y1="200.00" x2="234.20" y2="200.00" stroke="#000" stroke-width="1.0" />
<line x1="268.50" y1="200.00" x2="277.50" y2="200.00" stroke="#000" stroke-width="1.0" />
<line x1="70.00" y1="143.20" x2="208.50" y2="143.20" stroke="#000" stroke-width="1.0" />
<line x1="234.00" y1="143.20" x2="277.50" y2="143.20" stroke="#000" stroke-width="1.0" />
<line x1="114.30" y1="90.00" x2="114.30" y2="96.00" stroke="#000" stroke-width="0.9" />
<line x1="114.30" y1="98.00" x2="114.30" y2="190.00" stroke="#000" stroke-width="0.9" stroke-dasharray="22 2 3 2"/>
<rect x="57.80" y="173.60" width="10.60" height="7.20" stroke="#000" stroke-width="1.0" fill="#222"/>
<line x1="59.80" y1="174.20" x2="59.80" y2="180.20" stroke="#ddd" stroke-width="0.7" />
<line x1="63.00" y1="174.20" x2="63.00" y2="180.20" stroke="#ddd" stroke-width="0.7" />
<line x1="66.20" y1="174.20" x2="66.20" y2="180.20" stroke="#ddd" stroke-width="0.7" />
<rect x="159.40" y="173.60" width="10.60" height="7.20" stroke="#000" stroke-width="1.0" fill="#222"/>
<line x1="161.40" y1="174.20" x2="161.40" y2="180.20" stroke="#ddd" stroke-width="0.7" />
<line x1="164.60" y1="174.20" x2="164.60" y2="180.20" stroke="#ddd" stroke-width="0.7" />
<line x1="167.80" y1="174.20" x2="167.80" y2="180.20" stroke="#ddd" stroke-width="0.7" />
<path d="M73.6 167.8 L76.5 146 C78.5 138.5 86 131.5 96 129.3 H130.5 C141 131 150 143 154 158 L157.4 173" stroke="#000" stroke-width="1.8" fill="none" />
<line x1="76.50" y1="152.40" x2="95.30" y2="152.40" stroke="#000" stroke-width="1.1" />
<line x1="134.40" y1="152.40" x2="153.00" y2="152.40" stroke="#000" stroke-width="1.1" />
<line x1="76.00" y1="158.40" x2="91.50" y2="158.40" stroke="#000" stroke-width="1.1" />
<line x1="137.50" y1="158.40" x2="154.50" y2="158.40" stroke="#000" stroke-width="1.1" />
<line x1="95.30" y1="129.30" x2="95.30" y2="150.00" stroke="#000" stroke-width="1.1" />
<line x1="100.00" y1="129.30" x2="100.00" y2="150.00" stroke="#000" stroke-width="1.1" />
<line x1="101.90" y1="129.30" x2="101.90" y2="150.00" stroke="#000" stroke-width="1.1" />
<line x1="126.60" y1="129.30" x2="126.60" y2="150.00" stroke="#000" stroke-width="1.1" />
<line x1="129.60" y1="129.30" x2="129.60" y2="150.00" stroke="#000" stroke-width="1.1" />
<line x1="134.30" y1="129.30" x2="134.30" y2="150.00" stroke="#000" stroke-width="1.1" />
<clipPath id="h1"><polygon points="95.30,129.30 100.00,129.30 100.00,150.00 95.30,150.00"/></clipPath>
<g clip-path="url(#h1)" stroke="#000" stroke-width="0.8">
<line x1="72.60" y1="150.00" x2="93.30" y2="129.30"/>
<line x1="76.80" y1="150.00" x2="97.50" y2="129.30"/>
<line x1="81.00" y1="150.00" x2="101.70" y2="129.30"/>
<line x1="85.20" y1="150.00" x2="105.90" y2="129.30"/>
<line x1="89.40" y1="150.00" x2="110.10" y2="129.30"/>
<line x1="93.60" y1="150.00" x2="114.30" y2="129.30"/>
<line x1="97.80" y1="150.00" x2="118.50" y2="129.30"/>
<line x1="102.00" y1="150.00" x2="122.70" y2="129.30"/>
<line x1="106.20" y1="150.00" x2="126.90" y2="129.30"/>
<line x1="110.40" y1="150.00" x2="131.10" y2="129.30"/>
<line x1="114.60" y1="150.00" x2="135.30" y2="129.30"/>
<line x1="118.80" y1="150.00" x2="139.50" y2="129.30"/>
</g>
<clipPath id="h2"><polygon points="129.60,129.30 134.30,129.30 134.30,150.00 129.60,150.00"/></clipPath>
<g clip-path="url(#h2)" stroke="#000" stroke-width="0.8">
<line x1="106.90" y1="150.00" x2="127.60" y2="129.30"/>
<line x1="111.10" y1="150.00" x2="131.80" y2="129.30"/>
<line x1="115.30" y1="150.00" x2="136.00" y2="129.30"/>
<line x1="119.50" y1="150.00" x2="140.20" y2="129.30"/>
<line x1="123.70" y1="150.00" x2="144.40" y2="129.30"/>
<line x1="127.90" y1="150.00" x2="148.60" y2="129.30"/>
<line x1="132.10" y1="150.00" x2="152.80" y2="129.30"/>
<line x1="136.30" y1="150.00" x2="157.00" y2="129.30"/>
<line x1="140.50" y1="150.00" x2="161.20" y2="129.30"/>
<line x1="144.70" y1="150.00" x2="165.40" y2="129.30"/>
<line x1="148.90" y1="150.00" x2="169.60" y2="129.30"/>
<line x1="153.10" y1="150.00" x2="173.80" y2="129.30"/>
</g>
<path d="M101.9 147.2 H104 V149.3 H106 M126.6 147.2 H124.5 V149.3 H122.5" stroke="#000" stroke-width="1.0" fill="none" />
<line x1="104.00" y1="147.20" x2="124.50" y2="147.20" stroke="#000" stroke-width="1.0" />
<clipPath id="h3"><polygon points="103.80,151.00 110.90,151.00 110.90,184.00 103.80,184.00"/></clipPath>
<g clip-path="url(#h3)" stroke="#000" stroke-width="0.9">
<line x1="68.80" y1="184.00" x2="101.80" y2="151.00"/>
<line x1="74.00" y1="184.00" x2="107.00" y2="151.00"/>
<line x1="79.20" y1="184.00" x2="112.20" y2="151.00"/>
<line x1="84.40" y1="184.00" x2="117.40" y2="151.00"/>
<line x1="89.60" y1="184.00" x2="122.60" y2="151.00"/>
<line x1="94.80" y1="184.00" x2="127.80" y2="151.00"/>
<line x1="100.00" y1="184.00" x2="133.00" y2="151.00"/>
<line x1="105.20" y1="184.00" x2="138.20" y2="151.00"/>
<line x1="110.40" y1="184.00" x2="143.40" y2="151.00"/>
<line x1="115.60" y1="184.00" x2="148.60" y2="151.00"/>
<line x1="120.80" y1="184.00" x2="153.80" y2="151.00"/>
<line x1="126.00" y1="184.00" x2="159.00" y2="151.00"/>
<line x1="131.20" y1="184.00" x2="164.20" y2="151.00"/>
<line x1="136.40" y1="184.00" x2="169.40" y2="151.00"/>
<line x1="141.60" y1="184.00" x2="174.60" y2="151.00"/>
</g>
<clipPath id="h4"><polygon points="117.00,151.00 126.40,151.00 126.40,184.00 117.00,184.00"/></clipPath>
<g clip-path="url(#h4)" stroke="#000" stroke-width="0.9">
<line x1="82.00" y1="184.00" x2="115.00" y2="151.00"/>
<line x1="87.20" y1="184.00" x2="120.20" y2="151.00"/>
<line x1="92.40" y1="184.00" x2="125.40" y2="151.00"/>
<line x1="97.60" y1="184.00" x2="130.60" y2="151.00"/>
<line x1="102.80" y1="184.00" x2="135.80" y2="151.00"/>
<line x1="108.00" y1="184.00" x2="141.00" y2="151.00"/>
<line x1="113.20" y1="184.00" x2="146.20" y2="151.00"/>
<line x1="118.40" y1="184.00" x2="151.40" y2="151.00"/>
<line x1="123.60" y1="184.00" x2="156.60" y2="151.00"/>
<line x1="128.80" y1="184.00" x2="161.80" y2="151.00"/>
<line x1="134.00" y1="184.00" x2="167.00" y2="151.00"/>
<line x1="139.20" y1="184.00" x2="172.20" y2="151.00"/>
<line x1="144.40" y1="184.00" x2="177.40" y2="151.00"/>
<line x1="149.60" y1="184.00" x2="182.60" y2="151.00"/>
<line x1="154.80" y1="184.00" x2="187.80" y2="151.00"/>
<line x1="160.00" y1="184.00" x2="193.00" y2="151.00"/>
</g>
<path d="M100 150 V184 M103.8 151 V184 M126.6 151 V184 M129.6 150 V184" stroke="#000" stroke-width="1.5" fill="none" />
<line x1="110.90" y1="151.00" x2="110.90" y2="184.00" stroke="#000" stroke-width="1.0" />
<line x1="117.00" y1="151.00" x2="117.00" y2="184.00" stroke="#000" stroke-width="1.0" />
<line x1="100.00" y1="151.00" x2="129.60" y2="151.00" stroke="#000" stroke-width="1.1" />
<clipPath id="h5"><polygon points="80.50,164.00 100.00,164.00 100.00,184.00 84.00,184.00 84.00,179.80 72.00,179.80"/></clipPath>
<g clip-path="url(#h5)" stroke="#000" stroke-width="1.0">
<line x1="50.00" y1="184.00" x2="70.00" y2="164.00"/>
<line x1="56.40" y1="184.00" x2="76.40" y2="164.00"/>
<line x1="62.80" y1="184.00" x2="82.80" y2="164.00"/>
<line x1="69.20" y1="184.00" x2="89.20" y2="164.00"/>
<line x1="75.60" y1="184.00" x2="95.60" y2="164.00"/>
<line x1="82.00" y1="184.00" x2="102.00" y2="164.00"/>
<line x1="88.40" y1="184.00" x2="108.40" y2="164.00"/>
<line x1="94.80" y1="184.00" x2="114.80" y2="164.00"/>
<line x1="101.20" y1="184.00" x2="121.20" y2="164.00"/>
<line x1="107.60" y1="184.00" x2="127.60" y2="164.00"/>
<line x1="114.00" y1="184.00" x2="134.00" y2="164.00"/>
<line x1="120.40" y1="184.00" x2="140.40" y2="164.00"/>
</g>
<clipPath id="h6"><polygon points="129.60,164.00 154.40,164.00 159.00,179.80 145.00,179.80 145.00,184.00 129.60,184.00"/></clipPath>
<g clip-path="url(#h6)" stroke="#000" stroke-width="1.0">
<line x1="107.60" y1="184.00" x2="127.60" y2="164.00"/>
<line x1="114.00" y1="184.00" x2="134.00" y2="164.00"/>
<line x1="120.40" y1="184.00" x2="140.40" y2="164.00"/>
<line x1="126.80" y1="184.00" x2="146.80" y2="164.00"/>
<line x1="133.20" y1="184.00" x2="153.20" y2="164.00"/>
<line x1="139.60" y1="184.00" x2="159.60" y2="164.00"/>
<line x1="146.00" y1="184.00" x2="166.00" y2="164.00"/>
<line x1="152.40" y1="184.00" x2="172.40" y2="164.00"/>
<line x1="158.80" y1="184.00" x2="178.80" y2="164.00"/>
<line x1="165.20" y1="184.00" x2="185.20" y2="164.00"/>
<line x1="171.60" y1="184.00" x2="191.60" y2="164.00"/>
<line x1="178.00" y1="184.00" x2="198.00" y2="164.00"/>
</g>
<path d="M72 179.8 L80.5 164 H91.5 M154.4 164 L159 179.8 M137.5 164 H154.4" stroke="#000" stroke-width="1.2" fill="none" />
<rect x="91.50" y="158.60" width="8.20" height="7.60" stroke="#000" stroke-width="1.4" fill="#fff"/>
<line x1="91.50" y1="158.60" x2="99.70" y2="166.20" stroke="#000" stroke-width="0.9" />
<line x1="91.50" y1="166.20" x2="99.70" y2="158.60" stroke="#000" stroke-width="0.9" />
<rect x="129.70" y="158.60" width="8.20" height="7.60" stroke="#000" stroke-width="1.4" fill="#fff"/>
<line x1="129.70" y1="158.60" x2="137.90" y2="166.20" stroke="#000" stroke-width="0.9" />
<line x1="129.70" y1="166.20" x2="137.90" y2="158.60" stroke="#000" stroke-width="0.9" />
<path d="M36 180.5 H84 V184.8 H145 V180.5 H172" stroke="#000" stroke-width="1.5" fill="none" />
<line x1="100.00" y1="184.80" x2="129.60" y2="184.80" stroke="#000" stroke-width="1.5" />
</g>
<line x1="33.80" y1="149.60" x2="77.00" y2="149.60" stroke="#000" stroke-width="1.2" />
<line x1="11.00" y1="176.30" x2="57.50" y2="176.30" stroke="#000" stroke-width="1.2" />
<line x1="11.00" y1="185.00" x2="84.00" y2="185.00" stroke="#000" stroke-width="1.5" />
<line x1="22.20" y1="152.00" x2="22.20" y2="197.00" stroke="#000" stroke-width="1.2" />
<path d="M22.2 176.5 l-1.3 -5 h2.6 Z M22.2 185 l-1.3 5 h2.6 Z M44.4 149.6 l-1.3 5 h2.6 Z M44.4 176.3 l-1.3 -5 h2.6 Z" stroke="#000" stroke-width="0.3" fill="#000" />
<line x1="44.50" y1="149.60" x2="44.50" y2="176.30" stroke="#000" stroke-width="1.2" />
<text x="19.40" y="164.60" font-family="Liberation Serif" font-size="15.5" text-anchor="start" fill="#000" transform="rotate(-90.00 19.40 164.60)" textLength="12.00" lengthAdjust="spacingAndGlyphs" >h1</text>
<text x="40.60" y="168.20" font-family="Liberation Serif" font-size="15.5" text-anchor="start" fill="#000" transform="rotate(-90.00 40.60 168.20)" textLength="12.50" lengthAdjust="spacingAndGlyphs" >h2</text>
<text x="35.60" y="222.00" font-family="Liberation Serif" font-size="15" text-anchor="start" fill="#000" transform="rotate(-90.00 35.60 222.00)" textLength="28.30" lengthAdjust="spacingAndGlyphs" >3.0R5</text>
<line x1="37.60" y1="180.00" x2="37.60" y2="222.60" stroke="#000" stroke-width="1.2" />
<line x1="46.80" y1="174.00" x2="46.80" y2="276.00" stroke="#000" stroke-width="1.2" />
<line x1="46.80" y1="272.50" x2="145.00" y2="272.50" stroke="#000" stroke-width="1.2" />
<line x1="57.00" y1="180.00" x2="57.00" y2="248.00" stroke="#000" stroke-width="1.2" />
<line x1="171.30" y1="180.00" x2="171.30" y2="248.00" stroke="#000" stroke-width="1.2" />
<line x1="57.00" y1="248.00" x2="171.30" y2="248.00" stroke="#000" stroke-width="1.2" />
<line x1="83.80" y1="184.00" x2="83.80" y2="228.30" stroke="#000" stroke-width="1.2" />
<line x1="145.00" y1="184.00" x2="145.00" y2="228.30" stroke="#000" stroke-width="1.2" />
<line x1="83.80" y1="228.30" x2="145.00" y2="228.30" stroke="#000" stroke-width="1.2" />
<line x1="110.00" y1="184.00" x2="110.00" y2="205.50" stroke="#000" stroke-width="1.2" />
<line x1="117.50" y1="184.00" x2="117.50" y2="205.50" stroke="#000" stroke-width="1.2" />
<line x1="82.50" y1="205.50" x2="117.50" y2="205.50" stroke="#000" stroke-width="1.2" />
<text x="82.50" y="204.00" font-family="Liberation Serif" font-size="14.6" text-anchor="start" fill="#000" >Ød4</text>
<text x="102.50" y="227.00" font-family="Liberation Serif" font-size="14.6" text-anchor="start" fill="#000" >Ød1</text>
<text x="101.50" y="246.80" font-family="Liberation Serif" font-size="14.6" text-anchor="start" fill="#000" >Ød2</text>
<text x="102.50" y="267.00" font-family="Liberation Serif" font-size="14.6" text-anchor="start" fill="#000" >Ød3</text>
<line x1="115.70" y1="286.30" x2="115.70" y2="300.00" stroke="#000" stroke-width="1.4" />
<text x="120.00" y="295.80" font-family="Liberation Serif" font-size="10.3" text-anchor="start" fill="#000" >A</text>
<path d="M255 143 L276.3 98.8 H314.5" stroke="#000" stroke-width="1.2" fill="none" />
<text x="0" y="0" font-family="Liberation Mono" font-size="13.92" fill="#000" transform="translate(258.00 95.00) scale(1 1.22)" xml:space="preserve">Hand Wheel Axis</text>
<text x="0" y="0" font-family="Liberation Mono" font-size="10.42" fill="#000" transform="translate(280.00 120.50) scale(1 1.22)" xml:space="preserve">Parallel to Motor</text>
<text x="0" y="0" font-family="Liberation Mono" font-size="10.42" fill="#000" transform="translate(287.00 142.50) scale(1 1.22)" xml:space="preserve">Axis</text>
<text x="0" y="0" font-family="Liberation Mono" font-size="10.47" fill="#000" transform="translate(722.50 110.60) scale(1 1.22)" xml:space="preserve">Parallel to</text>
<text x="0" y="0" font-family="Liberation Mono" font-size="10.47" fill="#000" transform="translate(722.50 132.70) scale(1 1.22)" xml:space="preserve">Motor Axis</text>
<g id="g2" transform="translate(-2.5 280.75)">
<rect x="101.50" y="98.40" width="25.70" height="8.80" stroke="#000" stroke-width="1.5" fill="#fff"/>
<line x1="101.50" y1="98.40" x2="127.20" y2="107.20" stroke="#000" stroke-width="0.9" />
<line x1="101.50" y1="107.20" x2="127.20" y2="98.40" stroke="#000" stroke-width="0.9" />
<rect x="90.60" y="107.20" width="47.30" height="6.80" stroke="#000" stroke-width="1.8" fill="none"/>
<rect x="87.80" y="114.00" width="52.90" height="6.00" stroke="#000" stroke-width="1.8" fill="none"/>
<path d="M87.8 120 L56 150 V173.6" stroke="#000" stroke-width="1.8" fill="none" />
<path d="M56 158.4 L46 164.6 V173.6" stroke="#000" stroke-width="1.8" fill="none" />
<line x1="46.00" y1="167.80" x2="74.00" y2="167.80" stroke="#000" stroke-width="1.8" />
<line x1="45.30" y1="173.60" x2="72.50" y2="173.60" stroke="#000" stroke-width="1.8" />
<line x1="140.70" y1="118.80" x2="179.00" y2="118.80" stroke="#000" stroke-width="1.8" />
<path d="M140.7 120 C142 130 149 141 160 148 C165 151 170 152.5 173 154 V173.6" stroke="#000" stroke-width="1.8" fill="none" />
<line x1="157.50" y1="167.80" x2="173.00" y2="167.80" stroke="#000" stroke-width="1.8" />
<line x1="157.50" y1="173.60" x2="173.60" y2="173.60" stroke="#000" stroke-width="1.8" />
<path d="M178.6 118.8 C181 118 183 116.5 184.8 115.2 H192.7" stroke="#000" stroke-width="1.8" fill="none" />
<line x1="180.00" y1="118.50" x2="180.00" y2="170.80" stroke="#000" stroke-width="1.3" />
<line x1="185.70" y1="115.20" x2="185.70" y2="170.80" stroke="#000" stroke-width="1.8" />
<line x1="173.00" y1="168.80" x2="180.00" y2="168.80" stroke="#000" stroke-width="1.2" />
<path d="M180 170.8 H201" stroke="#000" stroke-width="1.8" fill="none" />
<line x1="192.70" y1="107.30" x2="192.70" y2="170.80" stroke="#000" stroke-width="1.8" />
<path d="M192.7 107.3 C196.5 106.3 199.5 104.8 200.6 101.6 L201 104 V171" stroke="#000" stroke-width="1.8" fill="none" />
<line x1="192.70" y1="149.20" x2="201.00" y2="149.20" stroke="#000" stroke-width="1.1" />
<line x1="192.70" y1="151.60" x2="201.00" y2="151.60" stroke="#000" stroke-width="1.1" />
<path d="M201 114.3 H204.8 V165 H201" stroke="#000" stroke-width="1.8" fill="none" />
<path d="M204.8 135.8 H208.5 M204.8 150 H208.5" stroke="#000" stroke-width="1.3" fill="none" />
<rect x="208.50" y="132.20" width="25.50" height="21.60" stroke="#000" stroke-width="1.8" fill="#fff"/>
<rect x="236.90" y="79.50" width="4.70" height="8.30" stroke="#000" stroke-width="1.0" fill="#333"/>
<rect x="237.90" y="87.80" width="2.80" height="9.70" stroke="#000" stroke-width="1.0" fill="#fff"/>
<path d="M234.6 103.5 V91.8 H244 V103.5" stroke="#000" stroke-width="2.4" fill="none" />
<path d="M235.5 103.5 H243.4 V127.5 H234" stroke="#000" stroke-width="1.8" fill="none" />
<line x1="242.30" y1="127.50" x2="242.30" y2="191.00" stroke="#000" stroke-width="1.8" />
<line x1="239.00" y1="127.50" x2="239.00" y2="191.00" stroke="#000" stroke-width="1.2" />
<line x1="235.60" y1="127.50" x2="235.60" y2="132.20" stroke="#000" stroke-width="1.8" />
<line x1="235.60" y1="153.80" x2="235.60" y2="191.00" stroke="#000" stroke-width="1.8" />
<path d="M216 132.2 Q227 120 234.6 105" stroke="#000" stroke-width="1.8" fill="none" />
<path d="M222.8 132.2 Q231 122 235.6 111.5" stroke="#000" stroke-width="1.8" fill="none" />
<path d="M229 132.2 Q234.5 124 237.6 115.5" stroke="#000" stroke-width="1.3" fill="none" />
<path d="M237.6 115.5 Q235.8 121 235.8 127.5" stroke="#000" stroke-width="1.3" fill="none" />
<path d="M215.3 153.8 L233.3 195" stroke="#000" stroke-width="1.8" fill="none" />
<path d="M222.8 153.8 L234.8 193" stroke="#000" stroke-width="1.8" fill="none" />
<path d="M230.5 153.8 L235.6 188" stroke="#000" stroke-width="1.3" fill="none" />
<rect x="234.20" y="191.20" width="9.60" height="15.80" stroke="#000" stroke-width="1.8" fill="#fff"/>
<line x1="239.00" y1="191.20" x2="239.00" y2="207.00" stroke="#000" stroke-width="1.0" />
<path d="M243.8 196.3 H264.2 A3.6 3.6 0 0 1 264.2 203.6 H243.8" stroke="#000" stroke-width="1.6" fill="#fff" />
<line x1="246.00" y1="198.60" x2="263.00" y2="198.60" stroke="#000" stroke-width="0.9" />
<line x1="246.00" y1="201.40" x2="263.00" y2="201.40" stroke="#000" stroke-width="0.9" />
<line x1="225.00" y1="200.00" x2="234.20" y2="200.00" stroke="#000" stroke-width="1.0" />
<line x1="268.50" y1="200.00" x2="277.50" y2="200.00" stroke="#000" stroke-width="1.0" />
<line x1="70.00" y1="143.20" x2="208.50" y2="143.20" stroke="#000" stroke-width="1.0" />
<line x1="234.00" y1="143.20" x2="277.50" y2="143.20" stroke="#000" stroke-width="1.0" />
<line x1="114.30" y1="90.00" x2="114.30" y2="96.00" stroke="#000" stroke-width="0.9" />
<line x1="114.30" y1="98.00" x2="114.30" y2="190.00" stroke="#000" stroke-width="0.9" stroke-dasharray="22 2 3 2"/>
<rect x="57.80" y="173.60" width="10.60" height="7.20" stroke="#000" stroke-width="1.0" fill="#222"/>
<line x1="59.80" y1="174.20" x2="59.80" y2="180.20" stroke="#ddd" stroke-width="0.7" />
<line x1="63.00" y1="174.20" x2="63.00" y2="180.20" stroke="#ddd" stroke-width="0.7" />
<line x1="66.20" y1="174.20" x2="66.20" y2="180.20" stroke="#ddd" stroke-width="0.7" />
<rect x="159.40" y="173.60" width="10.60" height="7.20" stroke="#000" stroke-width="1.0" fill="#222"/>
<line x1="161.40" y1="174.20" x2="161.40" y2="180.20" stroke="#ddd" stroke-width="0.7" />
<line x1="164.60" y1="174.20" x2="164.60" y2="180.20" stroke="#ddd" stroke-width="0.7" />
<line x1="167.80" y1="174.20" x2="167.80" y2="180.20" stroke="#ddd" stroke-width="0.7" />
<clipPath id="h7"><polygon points="74.50,163.00 75.50,152.00 79.00,141.00 86.00,134.00 94.80,130.30 94.80,163.00"/></clipPath>
<g clip-path="url(#h7)" stroke="#000" stroke-width="1.1">
<line x1="39.80" y1="130.30" x2="72.50" y2="163.00"/>
<line x1="48.80" y1="130.30" x2="81.50" y2="163.00"/>
<line x1="57.80" y1="130.30" x2="90.50" y2="163.00"/>
<line x1="66.80" y1="130.30" x2="99.50" y2="163.00"/>
<line x1="75.80" y1="130.30" x2="108.50" y2="163.00"/>
<line x1="84.80" y1="130.30" x2="117.50" y2="163.00"/>
<line x1="93.80" y1="130.30" x2="126.50" y2="163.00"/>
<line x1="102.80" y1="130.30" x2="135.50" y2="163.00"/>
<line x1="111.80" y1="130.30" x2="144.50" y2="163.00"/>
<line x1="120.80" y1="130.30" x2="153.50" y2="163.00"/>
</g>
<clipPath id="h8"><polygon points="94.80,130.30 105.00,129.30 105.00,163.00 94.80,163.00"/></clipPath>
<g clip-path="url(#h8)" stroke="#000" stroke-width="1.1">
<line x1="59.10" y1="163.00" x2="92.80" y2="129.30"/>
<line x1="68.10" y1="163.00" x2="101.80" y2="129.30"/>
<line x1="77.10" y1="163.00" x2="110.80" y2="129.30"/>
<line x1="86.10" y1="163.00" x2="119.80" y2="129.30"/>
<line x1="95.10" y1="163.00" x2="128.80" y2="129.30"/>
<line x1="104.10" y1="163.00" x2="137.80" y2="129.30"/>
<line x1="113.10" y1="163.00" x2="146.80" y2="129.30"/>
<line x1="122.10" y1="163.00" x2="155.80" y2="129.30"/>
<line x1="131.10" y1="163.00" x2="164.80" y2="129.30"/>
<line x1="140.10" y1="163.00" x2="173.80" y2="129.30"/>
</g>
<clipPath id="h9"><polygon points="123.00,129.30 134.00,130.50 134.00,163.00 123.00,163.00"/></clipPath>
<g clip-path="url(#h9)" stroke="#000" stroke-width="1.1">
<line x1="87.30" y1="163.00" x2="121.00" y2="129.30"/>
<line x1="96.30" y1="163.00" x2="130.00" y2="129.30"/>
<line x1="105.30" y1="163.00" x2="139.00" y2="129.30"/>
<line x1="114.30" y1="163.00" x2="148.00" y2="129.30"/>
<line x1="123.30" y1="163.00" x2="157.00" y2="129.30"/>
<line x1="132.30" y1="163.00" x2="166.00" y2="129.30"/>
<line x1="141.30" y1="163.00" x2="175.00" y2="129.30"/>
<line x1="150.30" y1="163.00" x2="184.00" y2="129.30"/>
<line x1="159.30" y1="163.00" x2="193.00" y2="129.30"/>
<line x1="168.30" y1="163.00" x2="202.00" y2="129.30"/>
</g>
<clipPath id="h10"><polygon points="134.00,130.50 142.00,134.50 150.00,144.00 155.00,156.00 157.00,163.00 134.00,163.00"/></clipPath>
<g clip-path="url(#h10)" stroke="#000" stroke-width="1.1">
<line x1="99.50" y1="130.50" x2="132.00" y2="163.00"/>
<line x1="108.50" y1="130.50" x2="141.00" y2="163.00"/>
<line x1="117.50" y1="130.50" x2="150.00" y2="163.00"/>
<line x1="126.50" y1="130.50" x2="159.00" y2="163.00"/>
<line x1="135.50" y1="130.50" x2="168.00" y2="163.00"/>
<line x1="144.50" y1="130.50" x2="177.00" y2="163.00"/>
<line x1="153.50" y1="130.50" x2="186.00" y2="163.00"/>
<line x1="162.50" y1="130.50" x2="195.00" y2="163.00"/>
<line x1="171.50" y1="130.50" x2="204.00" y2="163.00"/>
<line x1="180.50" y1="130.50" x2="213.00" y2="163.00"/>
<line x1="189.50" y1="130.50" x2="222.00" y2="163.00"/>
</g>
<clipPath id="h11"><polygon points="73.00,179.80 74.50,163.00 100.00,163.00 100.00,184.00 84.00,184.00 84.00,179.80"/></clipPath>
<g clip-path="url(#h11)" stroke="#000" stroke-width="1.1">
<line x1="50.00" y1="184.00" x2="71.00" y2="163.00"/>
<line x1="59.00" y1="184.00" x2="80.00" y2="163.00"/>
<line x1="68.00" y1="184.00" x2="89.00" y2="163.00"/>
<line x1="77.00" y1="184.00" x2="98.00" y2="163.00"/>
<line x1="86.00" y1="184.00" x2="107.00" y2="163.00"/>
<line x1="95.00" y1="184.00" x2="116.00" y2="163.00"/>
<line x1="104.00" y1="184.00" x2="125.00" y2="163.00"/>
<line x1="113.00" y1="184.00" x2="134.00" y2="163.00"/>
<line x1="122.00" y1="184.00" x2="143.00" y2="163.00"/>
</g>
<clipPath id="h12"><polygon points="128.00,163.00 157.00,163.00 158.50,175.00 159.00,179.80 145.00,179.80 145.00,184.00 128.00,184.00"/></clipPath>
<g clip-path="url(#h12)" stroke="#000" stroke-width="1.1">
<line x1="105.00" y1="184.00" x2="126.00" y2="163.00"/>
<line x1="114.00" y1="184.00" x2="135.00" y2="163.00"/>
<line x1="123.00" y1="184.00" x2="144.00" y2="163.00"/>
<line x1="132.00" y1="184.00" x2="153.00" y2="163.00"/>
<line x1="141.00" y1="184.00" x2="162.00" y2="163.00"/>
<line x1="150.00" y1="184.00" x2="171.00" y2="163.00"/>
<line x1="159.00" y1="184.00" x2="180.00" y2="163.00"/>
<line x1="168.00" y1="184.00" x2="189.00" y2="163.00"/>
<line x1="177.00" y1="184.00" x2="198.00" y2="163.00"/>
</g>
<path d="M73 179.8 L74.5 163.5 L75.5 152 C77 141 86 131.5 97 129.3 H131.5 C143 131 152 143 155.5 157 L159 179.8" stroke="#000" stroke-width="1.8" fill="none" />
<path d="M94.8 130.3 V158 M134 130.5 V158" stroke="#000" stroke-width="1.4" fill="none" />
<rect x="105.10" y="130.00" width="17.90" height="46.00" stroke="#fff" stroke-width="0.1" fill="#fff"/>
<path d="M105.1 129.3 V176 M123 129.3 V176" stroke="#000" stroke-width="1.6" fill="none" />
<line x1="74.50" y1="163.00" x2="91.00" y2="163.00" stroke="#000" stroke-width="1.3" />
<line x1="138.00" y1="163.00" x2="157.00" y2="163.00" stroke="#000" stroke-width="1.3" />
<rect x="90.70" y="158.40" width="9.40" height="8.40" stroke="#000" stroke-width="1.7" fill="#fff"/>
<line x1="90.70" y1="158.40" x2="100.10" y2="166.80" stroke="#000" stroke-width="0.9" />
<line x1="90.70" y1="166.80" x2="100.10" y2="158.40" stroke="#000" stroke-width="0.9" />
<rect x="128.20" y="158.40" width="9.60" height="8.40" stroke="#000" stroke-width="1.7" fill="#fff"/>
<line x1="128.20" y1="158.40" x2="137.80" y2="166.80" stroke="#000" stroke-width="0.9" />
<line x1="128.20" y1="166.80" x2="137.80" y2="158.40" stroke="#000" stroke-width="0.9" />
<path d="M100 166.8 V176 M128.2 166.8 V176" stroke="#000" stroke-width="1.6" fill="none" />
<rect x="98.50" y="174.30" width="9.40" height="6.20" stroke="#000" stroke-width="0.5" fill="#111"/>
<rect x="121.00" y="174.30" width="9.00" height="6.20" stroke="#000" stroke-width="0.5" fill="#111"/>
<line x1="107.40" y1="176.00" x2="120.00" y2="176.00" stroke="#000" stroke-width="1.3" />
<line x1="114.30" y1="122.00" x2="114.30" y2="190.00" stroke="#000" stroke-width="0.9" stroke-dasharray="22 2 3 2"/>
<line x1="70.00" y1="143.00" x2="208.00" y2="143.00" stroke="#000" stroke-width="0.9" />
<path d="M33 179.3 H83.8 V183.8 H145 V179.3 H210.5" stroke="#000" stroke-width="1.5" fill="none" />
</g>
<line x1="10.00" y1="455.40" x2="54.00" y2="455.40" stroke="#000" stroke-width="1.2" />
<line x1="10.00" y1="464.80" x2="81.00" y2="464.80" stroke="#000" stroke-width="1.2" />
<line x1="11.30" y1="437.50" x2="11.30" y2="464.80" stroke="#000" stroke-width="1.2" />
<text x="9.50" y="452.50" font-family="Liberation Serif" font-size="15.5" text-anchor="start" fill="#000" transform="rotate(-90.00 9.50 452.50)" textLength="12.50" lengthAdjust="spacingAndGlyphs" >h4</text>
<line x1="30.50" y1="460.00" x2="30.50" y2="485.50" stroke="#000" stroke-width="1.2" />
<text x="29.50" y="485.00" font-family="Liberation Serif" font-size="15.5" text-anchor="start" fill="#000" transform="rotate(-90.00 29.50 485.00)" textLength="12.50" lengthAdjust="spacingAndGlyphs" >h3</text>
<line x1="43.80" y1="464.00" x2="43.80" y2="585.60" stroke="#000" stroke-width="1.2" />
<line x1="54.50" y1="464.00" x2="54.50" y2="562.50" stroke="#000" stroke-width="1.2" />
<line x1="81.30" y1="464.00" x2="81.30" y2="541.80" stroke="#000" stroke-width="1.2" />
<line x1="97.00" y1="464.00" x2="97.00" y2="516.30" stroke="#000" stroke-width="1.2" />
<line x1="102.50" y1="464.00" x2="102.50" y2="493.80" stroke="#000" stroke-width="1.2" />
<line x1="121.30" y1="464.00" x2="121.30" y2="493.80" stroke="#000" stroke-width="1.2" />
<line x1="126.30" y1="464.00" x2="126.30" y2="516.30" stroke="#000" stroke-width="1.2" />
<line x1="142.50" y1="464.00" x2="142.50" y2="541.80" stroke="#000" stroke-width="1.2" />
<line x1="168.80" y1="464.00" x2="168.80" y2="562.50" stroke="#000" stroke-width="1.2" />
<line x1="102.50" y1="493.80" x2="168.80" y2="493.80" stroke="#000" stroke-width="1.2" />
<line x1="97.00" y1="516.30" x2="126.30" y2="516.30" stroke="#000" stroke-width="1.2" />
<line x1="81.30" y1="541.80" x2="142.50" y2="541.80" stroke="#000" stroke-width="1.2" />
<line x1="54.50" y1="562.50" x2="168.80" y2="562.50" stroke="#000" stroke-width="1.2" />
<line x1="43.80" y1="585.60" x2="142.50" y2="585.60" stroke="#000" stroke-width="1.2" />
<line x1="43.80" y1="455.00" x2="43.80" y2="464.00" stroke="#000" stroke-width="1.2" />
<text x="142.80" y="492.30" font-family="Liberation Serif" font-size="14.6" text-anchor="start" fill="#000" >Ød7</text>
<text x="99.00" y="515.00" font-family="Liberation Serif" font-size="14.6" text-anchor="start" fill="#000" >Ød8</text>
<text x="99.50" y="541.00" font-family="Liberation Serif" font-size="14.6" text-anchor="start" fill="#000" >Ød9</text>
<text x="99.50" y="560.50" font-family="Liberation Serif" font-size="14.6" text-anchor="start" fill="#000" >Ød2</text>
<text x="100.00" y="580.40" font-family="Liberation Serif" font-size="14.6" text-anchor="start" fill="#000" >Ød3</text>
<line x1="120.50" y1="590.00" x2="120.50" y2="603.80" stroke="#000" stroke-width="1.4" />
<text x="123.80" y="598.00" font-family="Liberation Serif" font-size="10.3" text-anchor="start" fill="#000" >A</text>
<line x1="208.00" y1="461.00" x2="208.00" y2="504.00" stroke="#000" stroke-width="1.2" />
<line x1="142.50" y1="461.00" x2="208.00" y2="461.00" stroke="#000" stroke-width="1.2" />
<text x="205.50" y="502.50" font-family="Liberation Serif" font-size="14" text-anchor="start" fill="#000" transform="rotate(-90.00 205.50 502.50)" >4</text>
<text x="205.50" y="495.50" font-family="Liberation Serif" font-size="10" text-anchor="start" fill="#000" transform="rotate(-90.00 205.50 495.50)" >OR</text>
<text x="205.50" y="481.50" font-family="Liberation Serif" font-size="14" text-anchor="start" fill="#000" transform="rotate(-90.00 205.50 481.50)" >5</text>
<path d="M256 423.8 L284.5 355 H323.8" stroke="#000" stroke-width="1.2" fill="none" />
<text x="0" y="0" font-family="Liberation Mono" font-size="10.45" fill="#000" transform="translate(284.00 352.20) scale(1 1.22)" xml:space="preserve">Hand Wheel Axis</text>
<text x="0" y="0" font-family="Liberation Mono" font-size="10.42" fill="#000" transform="translate(296.00 409.50) scale(1 1.2)" xml:space="preserve">Parallel to</text>
<text x="0" y="0" font-family="Liberation Mono" font-size="10.42" fill="#000" transform="translate(296.00 431.50) scale(1 1.2)" xml:space="preserve">Motor Axis</text>
</svg>
</body></html>
